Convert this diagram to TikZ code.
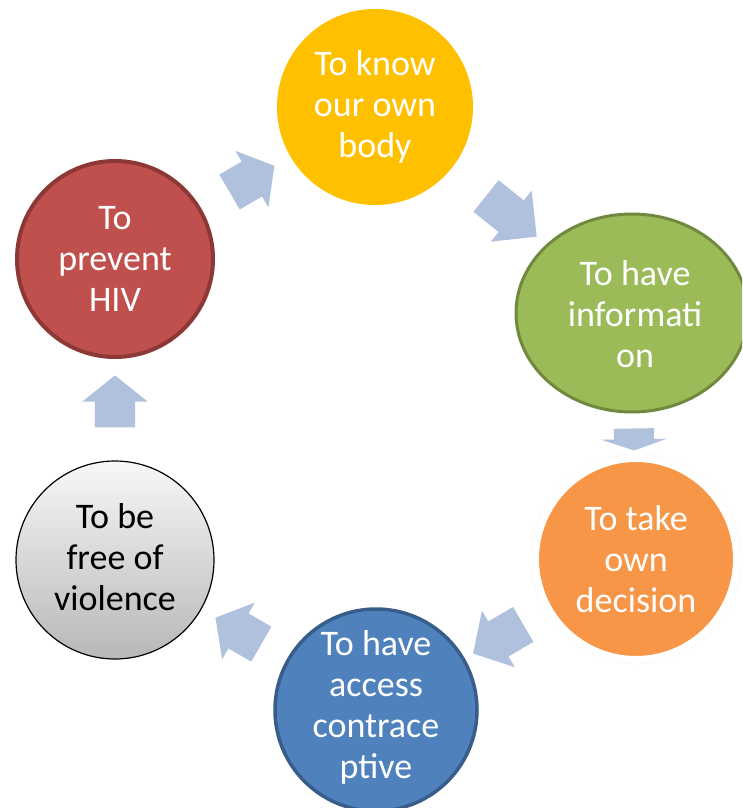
\documentclass[tikz,border=0pt]{standalone}
\usepackage{fontspec}
\setmainfont{Carlito}
\usetikzlibrary{shapes.geometric, shapes.arrows}
\definecolor{knowfill}{HTML}{FFC000}
\definecolor{infofill}{HTML}{9BBB59}
\definecolor{infoline}{HTML}{71893F}
\definecolor{decidefill}{HTML}{F79646}
\definecolor{accessfill}{HTML}{4F81BD}
\definecolor{accessline}{HTML}{385D8A}
\definecolor{hivfill}{HTML}{C0504D}
\definecolor{hivline}{HTML}{8C3836}
\definecolor{cyclefill}{HTML}{B0C1DD}
\begin{document}
\begin{tikzpicture}[x=1pt, y=-1pt,
  bubble/.style={circle, inner sep=0pt},
  caption/.style={align=center, text=white, font=\fontsize{36}{41}\selectfont},
  cyclearrow/.style={single arrow, fill=cyclefill, inner xsep=0pt, inner ysep=20pt, minimum width=65pt, single arrow head extend=12.5pt, midway, sloped, allow upside down}]
\clip (0,0) rectangle (742,808);
\node[bubble, fill=knowfill, minimum size=196pt] (know) at (375,107) {};
\node[ellipse, inner sep=0pt, fill=infofill, draw=infoline, line width=3pt, minimum width=232pt, minimum height=198pt] (info) at (632,313) {};
\node[bubble, draw=black!14, line width=2pt, minimum size=208pt] (decidehalo) at (636,559) {};
\node[bubble, fill=decidefill, draw=white, line width=8pt, minimum size=202pt] (decide) at (636,559) {};
\node[bubble, fill=accessfill, draw=accessline, line width=3.5pt, minimum size=202pt] (access) at (376,710) {};
\node[bubble, top color=black!3, bottom color=black!28, draw=black, line width=1.2pt, minimum size=198pt] (free) at (115,560) {};
\node[bubble, fill=hivfill, draw=hivline, line width=4pt, minimum size=196pt] (hiv) at (115,259) {};
\node[caption] (knowtext) at (know) {To know\\our own\\body};
\node[caption] (infotext) at (635,314) {To have\\informati\\on};
\node[caption] (decidetext) at (decide) {To take\\own\\decision};
\node[caption] (accesstext) at (376,707) {To have\\access\\contrace\\ptive};
\node[caption, text=black] (freetext) at (115,557) {To be\\free of\\violence};
\node[caption] (hivtext) at (hiv) {To\\prevent\\HIV};
\path (hiv.center) -- (know.center) node[cyclearrow, minimum height=52pt, single arrow tip angle=102.7] (hivtoknow) {};
\path (know.center) -- (info.center) node[cyclearrow, minimum height=65pt, single arrow tip angle=90] (knowtoinfo) {};
\path (info.center) -- (decide.center) node[cyclearrow, minimum height=22pt, single arrow tip angle=142] (infotodecide) {};
\path (decide.center) -- (access.center) node[cyclearrow, minimum height=58pt, single arrow tip angle=96.5] (decidetoaccess) {};
\path (access.center) -- (free.center) node[cyclearrow, minimum height=53pt, single arrow tip angle=101.6] (accesstofree) {};
\path (free.center) -- (hiv.center) node[cyclearrow, minimum height=52pt, single arrow tip angle=102.7] (freetohiv) {};
\end{tikzpicture}
\end{document}
